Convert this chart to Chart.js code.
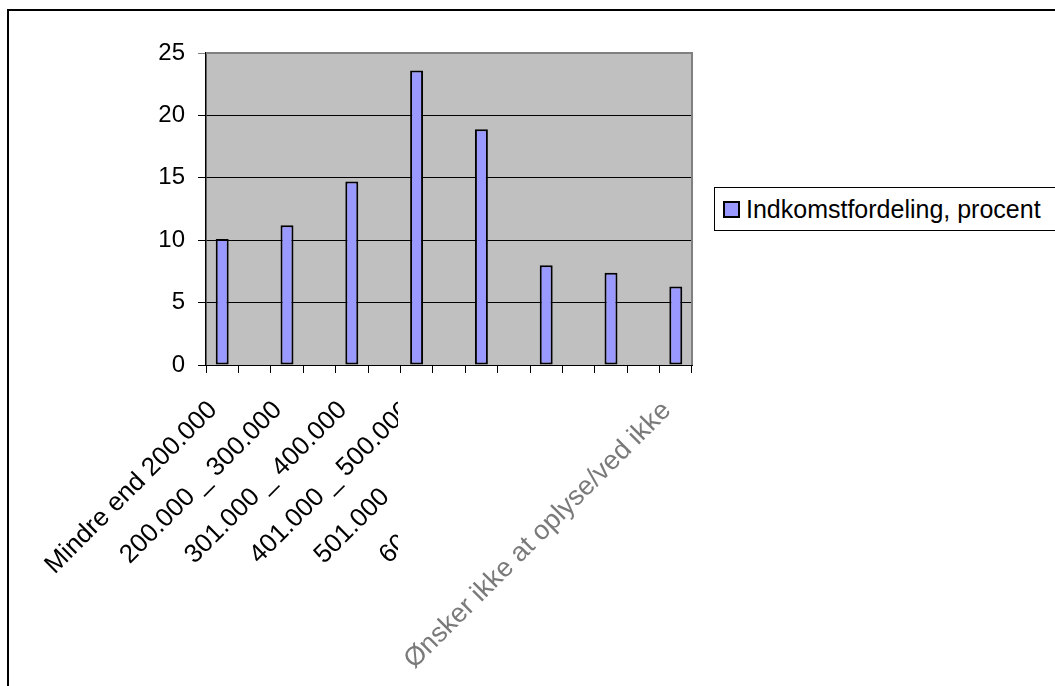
<!DOCTYPE html>
<html>
<head>
<meta charset="utf-8">
<script src="https://cdn.jsdelivr.net/npm/chart.js@4/dist/chart.umd.min.js"></script>
<style>
  html, body { margin: 0; padding: 0; background: #fff; overflow: hidden; }
  #wrap { position: relative; width: 1055px; height: 686px; overflow: hidden; }
  #frame { position: absolute; left: 7px; top: 9px; width: 1200px; height: 800px;
           border-left: 2px solid #000; border-top: 2px solid #000; }
  #chart { position: absolute; left: 0; top: 0; }
  #legend { position: absolute; left: 714px; top: 187px; height: 42px; width: 400px;
            border: 1px solid #000; background: #fff; display: flex; align-items: center;
            font: 25px "Liberation Sans", Arial, sans-serif; color: #000; }
  #legend .box { width: 13px; height: 13px; border: 2px solid #000; background: #9999ff;
                 margin-left: 8px; margin-right: 6px; }
</style>
</head>
<body>
<div id="wrap">
  <div id="frame"></div>
  <canvas id="chart" width="1055" height="686"></canvas>
  <div id="legend"></div>
</div>
<script>
// data
const seriesName = 'Indkomstfordeling, procent';
const categories = [
  'Mindre end 200.000',
  '200.000 _ 300.000',
  '301.000 _ 400.000',
  '401.000 _ 500.000',
  '501.000 _ 600.000',
  '601.000 _ 700.000',
  'Mere end 700.000',
  'Ønsker ikke at oplyse/ved ikke'
];
const values = [10.1, 11.2, 14.7, 23.6, 18.9, 8.0, 7.4, 6.3];
const yTicks = [0, 5, 10, 15, 20, 25];

document.addEventListener('DOMContentLoaded', () => {
  const FONT = '"Liberation Sans", Arial, sans-serif';

  // the original axis has an empty slot between every bar
  const labels = [];
  const data = [];
  categories.forEach((c, i) => {
    labels.push(c);
    data.push(values[i]);
    if (i < categories.length - 1) { labels.push(''); data.push(null); }
  });
  const hiddenIdx = labels.indexOf(categories[6]);
  const lastIdx = labels.length - 1;

  // legend in html, with the border box like the original
  const legend = document.getElementById('legend');
  legend.innerHTML = '<span class="box"></span><span>' + seriesName + '</span>';

  // grey plot area + grey top/right edge
  const plotBg = {
    id: 'plotBg',
    beforeDraw(chart) {
      const { ctx, chartArea: a } = chart;
      ctx.save();
      ctx.fillStyle = '#c0c0c0';
      ctx.fillRect(a.left, a.top, a.right - a.left, a.bottom - a.top);
      ctx.restore();
    },
    afterDatasetsDraw(chart) {
      const { ctx, chartArea: a } = chart;
      ctx.save();
      ctx.strokeStyle = '#808080';
      ctx.lineWidth = 2;
      ctx.beginPath();
      ctx.moveTo(a.left, a.top);
      ctx.lineTo(a.right, a.top);
      ctx.lineTo(a.right, a.bottom);
      ctx.stroke();
      ctx.restore();
    }
  };

  // the labels in the middle are cut off in the original
  const clipLabels = {
    id: 'clipLabels',
    afterDraw(chart) {
      const ctx = chart.ctx;
      ctx.save();
      ctx.fillStyle = '#fff';
      ctx.beginPath();
      ctx.moveTo(398, 377);
      ctx.lineTo(650, 377);
      ctx.lineTo(398, 629);
      ctx.closePath();
      ctx.fill();
      ctx.restore();
    }
  };

  new Chart(document.getElementById('chart'), {
    type: 'bar',
    data: {
      labels: labels,
      datasets: [{
        label: seriesName,
        data: data,
        backgroundColor: '#9999ff',
        borderColor: '#000',
        borderWidth: 2,
        borderSkipped: false,
        barPercentage: 0.40,
        categoryPercentage: 1.0
      }]
    },
    options: {
      responsive: false,
      animation: false,
      layout: { padding: { top: 53, right: 363, bottom: 0, left: 0 } },
      plugins: { legend: { display: false }, tooltip: { enabled: false } },
      scales: {
        x: {
          grid: { display: true, drawOnChartArea: false, tickLength: 8, color: '#000', offset: true },
          border: { color: '#000', width: 1 },
          ticks: {
            autoSkip: false,
            minRotation: 45,
            maxRotation: 45,
            padding: 22,
            labelOffset: -9,
            color: ctx => ctx.index === hiddenIdx ? 'rgba(0,0,0,0)' : (ctx.index === lastIdx ? '#7a7a7a' : '#000'),
            font: ctx => ({ family: FONT, size: ctx.index === lastIdx ? 27 : 26 })
          },
          afterFit: s => { s.height = 686 - 365; s.paddingLeft = 0; s.paddingRight = 0; }
        },
        y: {
          min: 0,
          max: 25,
          afterBuildTicks: s => { s.ticks = yTicks.map(v => ({ value: v })); },
          grid: {
            tickLength: 8,
            lineWidth: 1,
            color: ctx => ctx.tick && ctx.tick.value === 25 ? '#808080' : '#000'
          },
          border: { color: '#000', width: 1.5 },
          ticks: { padding: 13, color: '#000', font: { family: FONT, size: 24 } },
          afterFit: s => { s.width = 206; }
        }
      }
    },
    plugins: [plotBg, clipLabels]
  });
});
</script>
</body>
</html>
